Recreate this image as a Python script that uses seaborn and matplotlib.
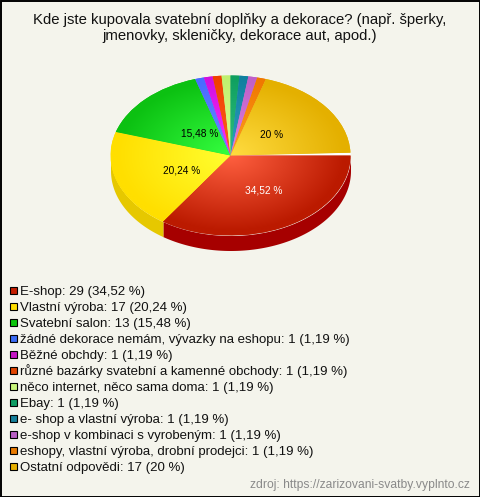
import numpy as np
import matplotlib
matplotlib.use("Agg")
import matplotlib.pyplot as plt
import seaborn as sns
from matplotlib.colors import LinearSegmentedColormap
from matplotlib.patches import Rectangle, Wedge

labels = ["E-shop", "Vlastní výroba", "Svatební salon",
          "žádné dekorace nemám, vývazky na eshopu", "Běžné obchdy",
          "různé bazárky svatební a kamenné obchody", "něco internet, něco sama doma",
          "Ebay", "e- shop a vlastní výroba", "e-shop v kombinaci s vyrobeným",
          "eshopy, vlastní výroba, drobní prodejci", "Ostatní odpovědi"]
counts = [29, 17, 13, 1, 1, 1, 1, 1, 1, 1, 1, 17]
shares = ["34,52", "20,24", "15,48", "1,19", "1,19", "1,19", "1,19", "1,19", "1,19", "1,19", "1,19", "20"]
legend_colors = ["#c41e00", "#ffdf00", "#0cc40c", "#3b6cf5", "#c414c4", "#e04400",
                 "#c8f57a", "#0e9c62", "#157f9a", "#b95fc4", "#e87a00", "#e6b000"]
rim_colors = ["#bb1a00", "#ffdf00", "#0cc112", "#4a6cff", "#d010e0", "#f04000",
              "#c0f070", "#10a060", "#1080a0", "#c060c8", "#f07800", "#e4b000"]
center_colors = ["#ff6040", "#ffff30", "#35ff40", "#6a8cff", "#ff30ff", "#ff6020",
                 "#e0ff90", "#30c080", "#30a0c0", "#e080e0", "#ffa020", "#ffdc40"]
side_colors = ["#a60000", "#e6c800", "#0a9a0a", "#2a4ac0", "#a010a0", "#c03000",
               "#a0c060", "#0a8050", "#106080", "#904aa0", "#c06000", "#c09000"]
slice_labels = ["34,52 %", "20,24 %", "15,48 %", "20 %"]
slice_label_colors = ["white", "black", "black", "black"]
slice_label_px = [(264, 190), (182, 171), (200, 133), (272, 135)]

W, H = 480, 497
BG = "#f4f4ec"
sns.set_theme(style="white", rc={"font.family": ["Liberation Sans", "DejaVu Sans"]})
fig = plt.figure(figsize=(W / 100, H / 100), dpi=100, facecolor=BG)

# full-figure pixel axes: frame, title, source, legend
bgax = fig.add_axes([0, 0, 1, 1], zorder=0)
bgax.set_xlim(0, W); bgax.set_ylim(H, 0); bgax.axis("off")
bgax.add_patch(Rectangle((0.5, 0.5), W - 1, H - 1, fill=False, ec="black", lw=1.4))
bgax.text(240, 20, "Kde jste kupovala svatební doplňky a dekorace? (např. šperky,",
          ha="center", va="center", fontsize=10.7, color="#111111")
bgax.text(240, 36, "jmenovky, skleničky, dekorace aut, apod.)",
          ha="center", va="center", fontsize=10.7, color="#111111")
bgax.text(470, 485, "zdroj: https://zarizovani-svatby.vyplnto.cz", ha="right", va="center",
          fontsize=8.75, color="#8a8a8a")

for i, (l, n_, s, c) in enumerate(zip(labels, counts, shares, legend_colors)):
    y = 290 + 16.02 * i
    bgax.add_patch(Rectangle((10, y - 3.5), 7, 7, fc=c, ec="black", lw=0.8))
    bgax.text(20, y + 4.5, f"{l}: {n_} ({s} %)", ha="left", va="baseline", fontsize=9.55, color="#111111")

# pie axes: the unit circle is stretched into an ellipse
cx, cy, rx, ry, depth = 230.5, 155.5, 120, 80, 15
pad = 4
ax = fig.add_axes([(cx - rx - pad) / W, 1 - (cy + ry + depth + pad) / H,
                   (2 * rx + 2 * pad) / W, (2 * ry + depth + 2 * pad) / H], zorder=1)
wedges, _ = ax.pie(counts, startangle=360, counterclock=False, radius=1,
                   colors=rim_colors, wedgeprops=dict(lw=0))
ax.set_aspect("auto")
d = depth / ry
xlim = (-1 - pad / rx, 1 + pad / rx)
ylim = (-1 - d - pad / ry, 1 + pad / ry)
ax.axis("off")

# hairline gap between the last slice and the first
GAP_DEG = 2.0
gap_from = wedges[-1].theta1
wedges[-1].set_theta1(gap_from + GAP_DEG)
ax.add_patch(Wedge((0, 0), 1, gap_from, gap_from + GAP_DEG, fc="white", lw=0, zorder=1.5))

# side wall of the lower half
for w, c in zip(wedges, side_colors):
    a1, a2 = max(w.theta1, 180), min(w.theta2, 360)
    if a2 > a1:
        a = np.radians(np.linspace(a1, a2, 120))
        ax.fill_between(np.cos(a), np.sin(a), np.sin(a) - d, color=c, lw=0, zorder=0.5)

# radial gradients clipped to each slice
n = 300
gx, gy = np.meshgrid(np.linspace(-1, 1, n), np.linspace(-1, 1, n))
r = np.clip(np.hypot(gx, gy), 0, 1)
for w, c0, c1 in zip(wedges, center_colors, rim_colors):
    cmap = LinearSegmentedColormap.from_list("g", [c0, c1])
    im = ax.imshow(r, extent=(-1, 1, -1, 1), origin="lower", cmap=cmap, vmin=0, vmax=0.95,
                   aspect="auto", zorder=2, interpolation="bilinear")
    im.set_clip_path(w)
ax.set_xlim(*xlim); ax.set_ylim(*ylim)

for txt, col, (px, py) in zip(slice_labels, slice_label_colors, slice_label_px):
    fig.text(px / W, 1 - py / H, txt, ha="center", va="center", color=col, fontsize=7.3, zorder=5)

fig.savefig("out.png", dpi=100, facecolor=BG)
